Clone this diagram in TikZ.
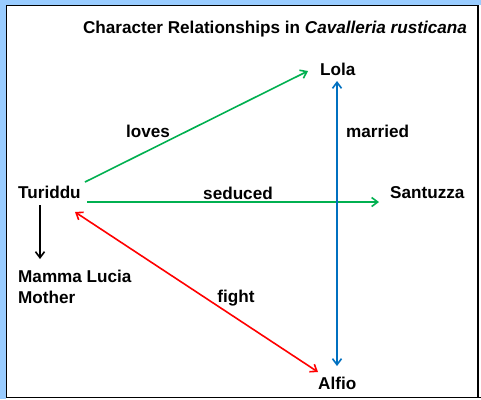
\documentclass[tikz,border=0pt]{standalone}
\usepackage{fontspec}
\setmainfont{Liberation Sans}
\usetikzlibrary{arrows.meta}
\definecolor{frameblue}{HTML}{99CCFF}
\definecolor{relgreen}{HTML}{00B050}
\definecolor{relblue}{HTML}{0070C0}
\definecolor{relred}{HTML}{FF0000}
\tikzset{
  lbl/.style={inner sep=0pt, anchor=base west, font=\fontsize{17.2}{20}\selectfont\bfseries},
  clbl/.style={inner sep=0pt, anchor=base, font=\fontsize{17.2}{20}\selectfont\bfseries},
  rel/.style={line width=1.6bp, -{Straight Barb[length=6bp,width=9bp]}},
  relboth/.style={line width=1.6bp, {Straight Barb[length=6bp,width=9bp]}-{Straight Barb[length=6bp,width=9bp]}},
}
\begin{document}
\begin{tikzpicture}[x=1bp,y=-1bp]
\useasboundingbox (0,0) rectangle (481,399);
% frame
\fill[frameblue] (0,0) rectangle (481,399);
\fill[white] (6,5) rectangle (481,399);
\draw[line width=1.5bp] (6.5,398) -- (6.5,5.5) -- (478,5.5) -- (478,398);
\draw[line width=1.5bp] (6.5,397.5) -- (481,397.5);
% title
\node[clbl] (title) at (275,33) {Character Relationships in \textit{Cavalleria rusticana}};
% characters
\node[lbl] (lola) at (320,75) {Lola};
\node[lbl] (turiddu) at (18,198) {Turiddu};
\node[lbl] (santuzza) at (390,198) {Santuzza};
\node[lbl] (mamma) at (18,282) {Mamma Lucia};
\node[lbl] (mother) at (18,303) {Mother};
\node[lbl] (alfio) at (318,389) {Alfio};
% relation labels
\node[clbl] (loves) at (148,137) {loves};
\node[lbl] (married) at (346,137) {married};
\node[clbl] (seduced) at (238,199) {seduced};
\node[clbl] (fight) at (236,302) {fight};
% connector ends
\coordinate (tLoves) at (85,182);
\coordinate (lLoves) at (308,71);
\coordinate (tSed) at (87,202);
\coordinate (sSed) at (379,202);
\coordinate (lMar) at (337,81);
\coordinate (aMar) at (337,366);
\coordinate (tFight) at (75,212);
\coordinate (aFight) at (318,372);
\coordinate (tMom) at (40,205);
\coordinate (mMom) at (40,259);
% connectors
\draw[rel, relgreen] (tLoves) -- (lLoves);
\draw[rel, relgreen] (tSed) -- (sSed);
\draw[relboth, relblue] (lMar) -- (aMar);
\draw[relboth, relred] (tFight) -- (aFight);
\draw[rel, black] (tMom) -- (mMom);
\end{tikzpicture}
\end{document}
